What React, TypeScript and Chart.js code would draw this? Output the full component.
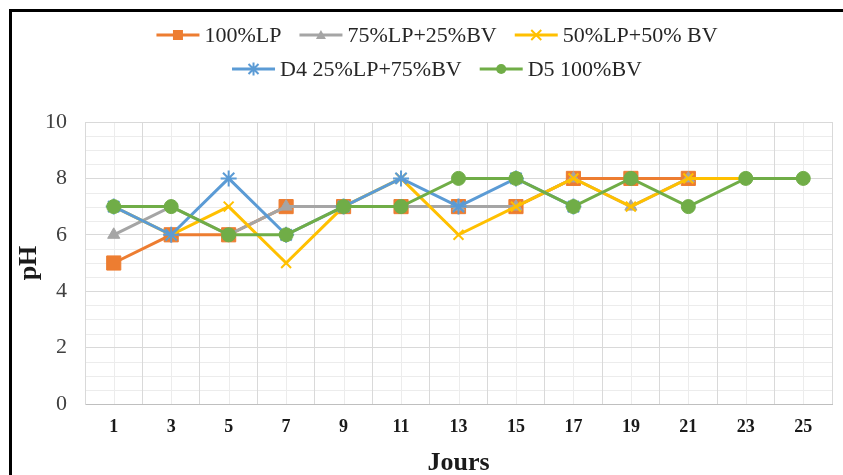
import React, { useEffect, useRef } from "react";
import { Chart, registerables } from "chart.js";

Chart.register(...registerables);

const days = ["1", "3", "5", "7", "9", "11", "13", "15", "17", "19", "21", "23", "25"];
const lp100 = [5, 6, 6, 7, 7, 7, 7, 7, 8, 8, 8, null, null];
const lp75bv25 = [6, 7, 6, 7, 7, 7, 7, 7, 8, 7, 8, null, null];
const lp50bv50 = [7, 6, 7, 5, 7, 8, 6, 7, 8, 7, 8, 8, null];
const d4 = [7, 6, 8, 6, 7, 8, 7, 8, 7, null, null, null, null];
const d5 = [7, 7, 6, 6, 7, 7, 8, 8, 7, 8, 7, 8, 8];
const seriesNames = ["100%LP", "75%LP+25%BV", "50%LP+50% BV", "D4 25%LP+75%BV", "D5 100%BV"];
const seriesColors = ["#ED7D31", "#A5A5A5", "#FFC000", "#5B9BD5", "#70AD47"];
const seriesMarkers = ["rect", "triangle", "crossRot", "star", "circle"];
const yTicks = [0, 2, 4, 6, 8, 10];

const SERIF = "'Liberation Serif', 'Times New Roman', serif";

function drawMarker(ctx: CanvasRenderingContext2D, style: string, x: number, y: number, r: number, color: string) {
  ctx.save();
  ctx.fillStyle = color;
  ctx.strokeStyle = color;
  ctx.lineWidth = 2;
  ctx.beginPath();
  if (style === "rect") {
    ctx.fillRect(x - r, y - r, 2 * r, 2 * r);
  } else if (style === "circle") {
    ctx.arc(x, y, r, 0, Math.PI * 2);
    ctx.fill();
  } else if (style === "triangle") {
    ctx.moveTo(x, y - r);
    ctx.lineTo(x + r, y + r * 0.8);
    ctx.lineTo(x - r, y + r * 0.8);
    ctx.closePath();
    ctx.fill();
  } else if (style === "crossRot") {
    ctx.moveTo(x - r, y - r);
    ctx.lineTo(x + r, y + r);
    ctx.moveTo(x + r, y - r);
    ctx.lineTo(x - r, y + r);
    ctx.stroke();
  } else if (style === "star") {
    ctx.moveTo(x - r, y - r);
    ctx.lineTo(x + r, y + r);
    ctx.moveTo(x + r, y - r);
    ctx.lineTo(x - r, y + r);
    ctx.moveTo(x, y - r * 1.3);
    ctx.lineTo(x, y + r * 1.3);
    ctx.stroke();
  }
  ctx.restore();
}

const framePlugin = {
  id: "frameAndMinor",
  beforeDraw(chart: any) {
    const { ctx, chartArea, scales } = chart;
    ctx.save();
    ctx.fillStyle = "#ffffff";
    ctx.fillRect(0, 0, chart.width, chart.height);
    ctx.strokeStyle = "#ececec";
    ctx.lineWidth = 1;
    const y = scales.y;
    for (let v = 0.5; v < 10; v += 0.5) {
      if (Math.abs(v % 2) < 1e-6) continue;
      const py = Math.round(y.getPixelForValue(v)) + 0.5;
      ctx.beginPath();
      ctx.moveTo(chartArea.left, py);
      ctx.lineTo(chartArea.right, py);
      ctx.stroke();
    }
    const x = scales.x;
    for (let i = 0; i < days.length; i++) {
      const px = Math.round(x.getPixelForValue(i)) + 0.5;
      ctx.beginPath();
      ctx.moveTo(px, chartArea.top);
      ctx.lineTo(px, chartArea.bottom);
      ctx.stroke();
    }
    ctx.restore();
  },
  afterDraw(chart: any) {
    const { ctx } = chart;
    ctx.save();
    ctx.font = `22px ${SERIF}`;
    ctx.textBaseline = "middle";
    ctx.textAlign = "left";
    const rows = [[0, 1, 2], [3, 4]];
    const rowY = [35, 69];
    const symW = 43, gapT = 5, gapItem = 18, centerX = 437;
    rows.forEach((row, ri) => {
      let total = 0;
      row.forEach((idx, k) => {
        total += symW + gapT + ctx.measureText(seriesNames[idx]).width;
        if (k > 0) total += gapItem;
      });
      let cx = centerX - total / 2;
      const cy = rowY[ri];
      row.forEach((idx) => {
        ctx.strokeStyle = seriesColors[idx];
        ctx.lineWidth = 3;
        ctx.beginPath();
        ctx.moveTo(cx, cy);
        ctx.lineTo(cx + symW, cy);
        ctx.stroke();
        drawMarker(ctx, seriesMarkers[idx], cx + symW / 2, cy, 5, seriesColors[idx]);
        cx += symW + gapT;
        ctx.fillStyle = "#262626";
        ctx.fillText(seriesNames[idx], cx, cy + 1);
        cx += ctx.measureText(seriesNames[idx]).width + gapItem;
      });
    });
    ctx.fillStyle = "#000000";
    ctx.fillRect(9, 9, 3, chart.height - 9);
    ctx.fillRect(9, 9, chart.width - 9, 3);
    ctx.restore();
  },
};

export default function App() {
  const ref = useRef<HTMLCanvasElement>(null);
  useEffect(() => {
    if (!ref.current) return;
    const all = [lp100, lp75bv25, lp50bv50, d4, d5];
    const radii = [10, 7, 7, 8, 7];
    const orders = [4, 3, 2, 1, 0];
    const chart = new Chart(ref.current, {
      type: "line",
      data: {
        labels: days,
        datasets: all.map((d, i) => ({
          label: seriesNames[i],
          data: d,
          borderColor: seriesColors[i],
          backgroundColor: seriesColors[i],
          borderWidth: 3,
          pointStyle: seriesMarkers[i] as any,
          pointRadius: radii[i],
          pointBorderWidth: seriesMarkers[i] === "crossRot" || seriesMarkers[i] === "star" ? 2 : 1,
          pointBackgroundColor: seriesColors[i],
          pointBorderColor: seriesColors[i],
          tension: 0,
          spanGaps: false,
          order: orders[i],
        })),
      },
      options: {
        responsive: false,
        animation: false,
        devicePixelRatio: 1,
        layout: { padding: { top: 122, right: 2, left: 0, bottom: 0 } },
        plugins: {
          legend: { display: false },
          tooltip: { enabled: false },
          title: { display: false },
        },
        scales: {
          x: {
            type: "category",
            offset: true,
            grid: { offset: true, color: "#d9d9d9", drawTicks: false, lineWidth: 1 },
            border: { display: true, color: "#bfbfbf" },
            ticks: {
              padding: 13,
              color: "#1a1a1a",
              font: { family: SERIF, size: 18, weight: "bold" },
              maxRotation: 0,
              autoSkip: false,
            },
            title: {
              display: true,
              text: "Jours",
              color: "#1a1a1a",
              font: { family: SERIF, size: 26, weight: "bold", lineHeight: 1 },
              padding: { top: 0, bottom: -1 },
            },
            afterFit: (s: any) => { s.height = 71; },
          },
          y: {
            min: 0,
            max: 10,
            afterBuildTicks: (s: any) => { s.ticks = yTicks.map((v) => ({ value: v })); },
            grid: { color: "#d9d9d9", drawTicks: false },
            border: { display: true, color: "#d9d9d9" },
            ticks: {
              padding: 18,
              color: "#404040",
              font: { family: SERIF, size: 22 },
            },
            title: {
              display: true,
              text: "pH",
              color: "#1a1a1a",
              font: { family: SERIF, size: 26, weight: "bold", lineHeight: 1 },
              padding: { top: 16, bottom: 0 },
            },
            afterFit: (s: any) => { s.width = 85; },
          },
        },
      },
      plugins: [framePlugin],
    });
    return () => chart.destroy();
  }, []);
  return (
    <div style={{ position: "absolute", left: 0, top: 0, width: 843, height: 475, background: "#fff" }}>
      <canvas ref={ref} width={843} height={475} style={{ display: "block" }} />
    </div>
  );
}
